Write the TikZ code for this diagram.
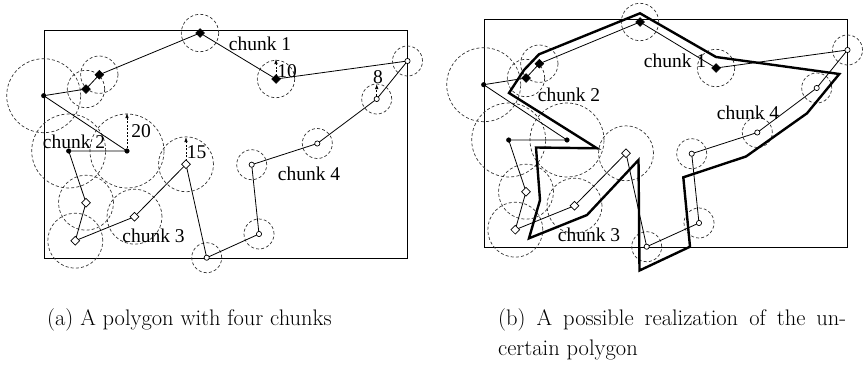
\documentclass[tikz,border=0pt]{standalone}
\usepackage{fontspec}
\usetikzlibrary{shapes.geometric,arrows.meta}
\newfontfamily\labfont{Liberation Serif}
\newcommand{\capsize}{\fontsize{22.5}{27}\selectfont}
\tikzset{
  frame/.style={draw=black,line width=0.9pt},
  tol/.style={draw=black!80,line width=0.7pt,dash pattern=on 3pt off 2.2pt},
  edge/.style={draw=black,line width=0.8pt},
  realiz/.style={draw=black,line width=2.4pt,line join=miter},
  fdia/.style={diamond,draw=black,fill=black,inner sep=0pt,minimum width=9pt,minimum height=9pt,line width=0.5pt},
  odia/.style={diamond,draw=black,fill=white,inner sep=0pt,minimum width=9pt,minimum height=9pt,line width=0.7pt},
  fcir/.style={circle,draw=black,fill=black,inner sep=0pt,minimum size=4.6pt},
  ocir/.style={circle,draw=black,fill=white,inner sep=0pt,minimum size=5.2pt,line width=0.7pt},
  lab/.style={font=\labfont\fontsize{19.5}{22}\selectfont,inner sep=0pt,anchor=base},
  radarrow/.style={draw=black,line width=0.7pt,dash pattern=on 2pt off 1.5pt,-{Latex[length=5pt,width=3.5pt]}},
  capt/.style={font=\capsize,inner sep=0pt,anchor=base west}
}
% draw the common uncertain polygon with node prefix #1
\newcommand{\uncpoly}[1]{%
  \coordinate (#1v1) at (200,33);
  \coordinate (#1v2) at (276,79);
  \coordinate (#1v3) at (407.5,61);
  \coordinate (#1v4) at (376.7,99);
  \coordinate (#1v5) at (317.3,143.5);
  \coordinate (#1v6) at (251.7,164.7);
  \coordinate (#1v7) at (259,234);
  \coordinate (#1v8) at (206.7,257.7);
  \coordinate (#1v9) at (186,164.3);
  \coordinate (#1v10) at (134.5,216.7);
  \coordinate (#1v11) at (75.3,240.7);
  \coordinate (#1v12) at (86,202.7);
  \coordinate (#1v13) at (68.7,151);
  \coordinate (#1v14) at (127,151);
  \coordinate (#1v15) at (43.7,95.7);
  \coordinate (#1v16) at (86,89);
  \coordinate (#1v17) at (99.3,74.7);
  \draw[frame] (44,30) rectangle (407.5,258);
  \foreach \v in {1,2,16,17} {\draw[tol] (#1v\v) circle (18.7pt);}
  \foreach \v in {13,14,15} {\draw[tol] (#1v\v) circle (37pt);}
  \foreach \v in {9,10,11,12} {\draw[tol] (#1v\v) circle (27.5pt);}
  \foreach \v in {3,4,5,6,7,8} {\draw[tol] (#1v\v) circle (15pt);}
  \draw[edge] (#1v1) -- (#1v2) -- (#1v3) -- (#1v4) -- (#1v5) -- (#1v6) -- (#1v7) -- (#1v8) -- (#1v9) -- (#1v10) -- (#1v11) -- (#1v12) -- (#1v13) -- (#1v14) -- (#1v15) -- (#1v16) -- (#1v17) -- cycle;
}
\newcommand{\uncmarks}[1]{%
  \foreach \v in {1,2,16,17} {\node[fdia] (#1m\v) at (#1v\v) {};}
  \foreach \v in {13,14,15} {\node[fcir] (#1m\v) at (#1v\v) {};}
  \foreach \v in {9,10,11,12} {\node[odia] (#1m\v) at (#1v\v) {};}
  \foreach \v in {3,4,5,6,7,8} {\node[ocir] (#1m\v) at (#1v\v) {};}
}
\begin{document}
\begin{tikzpicture}[x=1pt,y=-1pt]
\useasboundingbox (0,0) rectangle (864,367);
% ---------- panel (a)
\uncpoly{a}
\coordinate (r10) at (276,59);
\coordinate (r8) at (376.7,84);
\coordinate (r20) at (127,113);
\coordinate (r15) at (186,137);
\draw[radarrow] (av2) -- (r10);
\draw[radarrow] (av4) -- (r8);
\draw[radarrow] (av14) -- (r20);
\draw[radarrow] (av9) -- (r15);
\uncmarks{a}
\node[lab] (ac1) at (260,50) {chunk 1};
\node[lab] (ac2) at (74,148) {chunk 2};
\node[lab] (ac3) at (153.5,242) {chunk 3};
\node[lab] (ac4) at (309,180) {chunk 4};
\node[lab] (n10) at (287,77) {10};
\node[lab] (n8) at (378,83) {8};
\node[lab] (n20) at (141,137) {20};
\node[lab] (n15) at (196.5,158) {15};
% ---------- panel (b)
\begin{scope}[shift={(440,-11)}]
\uncpoly{b}
\end{scope}
\coordinate (t1) at (640,13.3);
\coordinate (t2) at (539,54.3);
\coordinate (t3) at (524,70);
\coordinate (t4) at (509,93);
\coordinate (t5) at (597,148.3);
\coordinate (t6) at (536,147.5);
\coordinate (t7) at (540,200);
\coordinate (t8) at (529,238.3);
\coordinate (t9) at (587,215);
\coordinate (t10) at (638.5,160);
\coordinate (t11) at (639.5,270.5);
\coordinate (t12) at (690,246.7);
\coordinate (t13) at (683.3,177.3);
\coordinate (t14) at (746,156.5);
\coordinate (t15) at (807,113.3);
\coordinate (t16) at (839.3,74);
\coordinate (t17) at (716,57);
\draw[realiz] (t1) -- (t2) -- (t3) -- (t4) -- (t5) -- (t6) -- (t7) -- (t8) -- (t9) -- (t10) -- (t11) -- (t12) -- (t13) -- (t14) -- (t15) -- (t16) -- (t17) -- cycle;
\uncmarks{b}
\node[lab] (bc1) at (675,67) {chunk 1};
\node[lab] (bc2) at (569,101) {chunk 2};
\node[lab] (bc3) at (589,241) {chunk 3};
\node[lab] (bc4) at (748,119.3) {chunk 4};
% ---------- captions
\node[capt] (capa) at (47,325) {(a) A polygon with four chunks};
\node[capt] (capb1) at (498,325) {\makebox[348pt][s]{(b) A possible realization of the un-}};
\node[capt] (capb2) at (498,355) {certain polygon};
\end{tikzpicture}
\end{document}
